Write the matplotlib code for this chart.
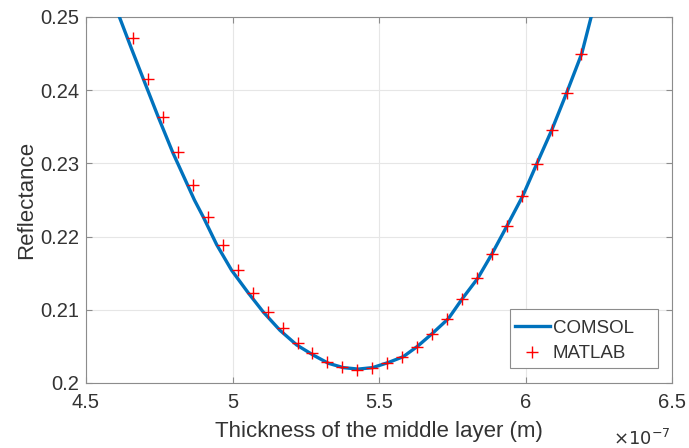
import matplotlib
matplotlib.use("Agg")
import matplotlib.pyplot as plt
from matplotlib.ticker import FixedLocator
from matplotlib.patches import Rectangle

plt.rcParams['font.family'] = ['Liberation Sans', 'DejaVu Sans']

# Thickness values in units of 1e-7 m
matlab_thickness = [4.661, 4.712, 4.763, 4.814, 4.865, 4.916, 4.967, 5.018, 5.069, 5.120,
                    5.171, 5.222, 5.273, 5.324, 5.375, 5.426, 5.477, 5.528, 5.579, 5.630,
                    5.681, 5.732, 5.783, 5.834, 5.885, 5.936, 5.987, 6.038, 6.089, 6.140,
                    6.191]
matlab_reflectance = [0.2471, 0.2415, 0.2363, 0.2315, 0.2270, 0.2227, 0.2189, 0.2154, 0.2123, 0.2097,
                      0.2075, 0.2055, 0.2041, 0.2029, 0.2022, 0.2018, 0.2020, 0.2027, 0.2035, 0.2049,
                      0.2067, 0.2087, 0.2115, 0.2143, 0.2176, 0.2214, 0.2255, 0.2299, 0.2345, 0.2396,
                      0.2450]

comsol_thickness = [4.614, 4.655, 4.696, 4.746, 4.796, 4.870, 4.900, 4.946, 4.997, 5.054,
                    5.105, 5.162, 5.219, 5.276, 5.327, 5.378, 5.429, 5.478, 5.532, 5.583,
                    5.631, 5.683, 5.737, 5.784, 5.837, 5.885, 5.936, 5.990, 6.038, 6.089,
                    6.140, 6.192, 6.224]
comsol_reflectance = [0.2500, 0.2457, 0.2415, 0.2364, 0.2315, 0.2250, 0.2227, 0.2189, 0.2154, 0.2123,
                      0.2097, 0.2072, 0.2052, 0.2038, 0.2027, 0.2021, 0.2019, 0.2021, 0.2028, 0.2036,
                      0.2050, 0.2068, 0.2088, 0.2115, 0.2143, 0.2176, 0.2214, 0.2255, 0.2299, 0.2345,
                      0.2396, 0.2450, 0.2500]

x_ticks = [4.5, 5.0, 5.5, 6.0, 6.5]
x_tick_labels = ['4.5', '5', '5.5', '6', '6.5']
y_ticks = [0.20, 0.21, 0.22, 0.23, 0.24, 0.25]
y_tick_labels = ['0.2', '0.21', '0.22', '0.23', '0.24', '0.25']

scale = 1e-7
text_color = '#333333'
axis_color = '#8c8c8c'

fig = plt.figure(figsize=(6.89, 4.48), dpi=100)
ax = fig.add_axes([86 / 689, 1 - 383 / 448, 586 / 689, 366 / 448])

ax.plot([t * scale for t in comsol_thickness], comsol_reflectance,
        color='#0072BD', linewidth=2.4, label='COMSOL', zorder=3)
ax.plot([t * scale for t in matlab_thickness], matlab_reflectance,
        linestyle='none', marker='+', markersize=9, markeredgewidth=1.0,
        color='#FF0000', label='MATLAB', zorder=4)

ax.set_xlim(4.5 * scale, 6.5 * scale)
ax.set_ylim(0.2, 0.25)
ax.xaxis.set_major_locator(FixedLocator([t * scale for t in x_ticks]))
ax.set_xticklabels(x_tick_labels)
ax.set_yticks(y_ticks)
ax.set_yticklabels(y_tick_labels)

ax.grid(True, color='#e6e6e6', linewidth=0.8)
ax.set_axisbelow(True)
for side in ['left', 'right', 'top', 'bottom']:
    ax.spines[side].set_color(axis_color)
    ax.spines[side].set_linewidth(0.8)
ax.tick_params(direction='in', top=True, right=True, length=4, width=0.8,
               color=axis_color, labelsize=14.5, labelcolor=text_color)
ax.tick_params(axis='x', pad=7)
ax.tick_params(axis='y', pad=5)

ax.set_xlabel('Thickness of the middle layer (m)', fontsize=16, color=text_color, labelpad=7)
ax.set_ylabel('Reflectance', fontsize=16, color=text_color, labelpad=2)

ax.text(0.997, -0.125, r'$\times10^{-7}$', transform=ax.transAxes, ha='right', va='top',
        fontsize=13, color=text_color)

# Legend box with wide right margin, drawn as its own rectangle
ax.add_patch(Rectangle((0.7235, 0.041), 0.2525, 0.161, transform=ax.transAxes,
                       facecolor='white', edgecolor=axis_color, linewidth=0.8, zorder=5))
leg = ax.legend(loc='upper left', bbox_to_anchor=(0.732, 0.173), fontsize=13.5,
                frameon=False, handlelength=1.87, handletextpad=0.15,
                borderaxespad=0, borderpad=0, labelspacing=0.45)
leg.set_zorder(6)
for t in leg.get_texts():
    t.set_color(text_color)

fig.savefig('out.png', dpi=100)
